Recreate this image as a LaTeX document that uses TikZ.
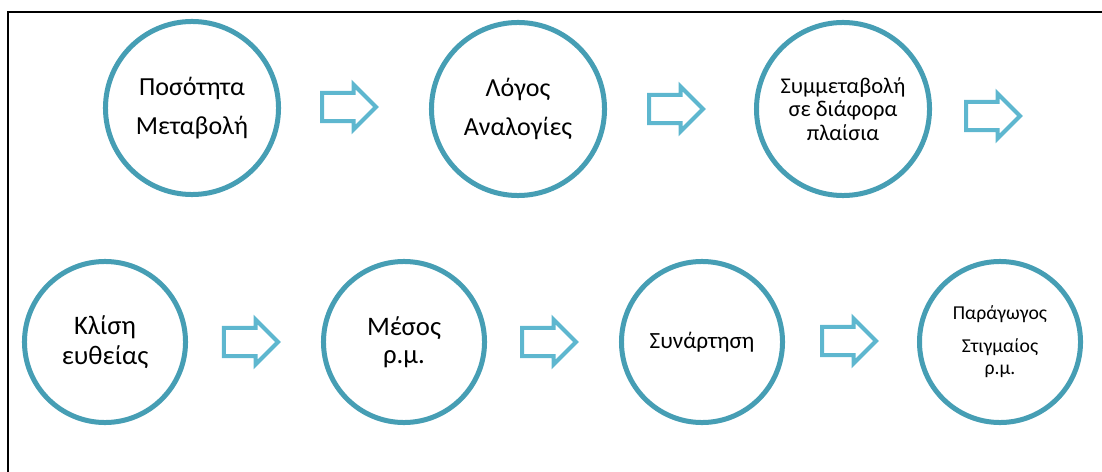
\documentclass[tikz,border=0pt]{standalone}
\usepackage{fontspec}
\setmainfont{Carlito}
\usepackage{xcolor}
\usetikzlibrary{shapes.arrows}
\definecolor{circblue}{RGB}{70,158,180}
\definecolor{arrblue}{RGB}{94,183,207}

\begin{document}
\begin{tikzpicture}[x=0.025cm,y=-0.025cm,
    stage/.style={circle,draw=circblue,line width=0.125cm,fill=white,
        minimum size=#1,inner sep=0pt,align=center},
    stage/.default=4.325cm,
    blockarrow/.style={single arrow,draw=arrblue,line width=0.1cm,
        minimum height=1.35cm,inner sep=0.3cm,
        single arrow head extend=0.2125cm}]
            \useasboundingbox (0,0) rectangle (1102,472);
            \draw[line width=0.065cm] (8,480) -- (8,12) -- (1110,12);

            % first row
            \node[stage,font=\fontsize{18.5}{28}\selectfont] (posotita) at (192,108) {Ποσότητα\\Μεταβολή};
            \node[stage,font=\fontsize{18.5}{28}\selectfont] (logos) at (518,109) {Λόγος\\Αναλογίες};
            \node[stage,font=\fontsize{16}{16.5}\selectfont] (symmetaboli) at (843,109) {Συμμεταβολή\\σε διάφορα\\πλαίσια};

            \node[blockarrow] (arr1) at (342,107) {};
            \node[blockarrow] (arr2) at (669,109) {};
            \node[blockarrow] (arr3) at (986,116) {};

            % second row
            \node[stage=4.025cm,font=\fontsize{19}{21}\selectfont] (klisi) at (105,342) {Κλίση\\ευθείας};
            \node[stage=4.025cm,font=\fontsize{19}{20}\selectfont] (mesos) at (404,342) {Μέσος\\ρ.μ.};
            \node[stage=4.025cm,font=\fontsize{16.5}{20}\selectfont] (synartisi) at (702,342) {Συνάρτηση};
            \node[stage=4.025cm,font=\fontsize{14}{16}\selectfont] (paragogos) at (1000,342) {Παράγωγος\\[7pt]Στιγμαίος\\ρ.μ.};

            \node[blockarrow] (arr4) at (244,342) {};
            \node[blockarrow] (arr5) at (542,342) {};
            \node[blockarrow] (arr6) at (842,341) {};
\end{tikzpicture}
\end{document}
